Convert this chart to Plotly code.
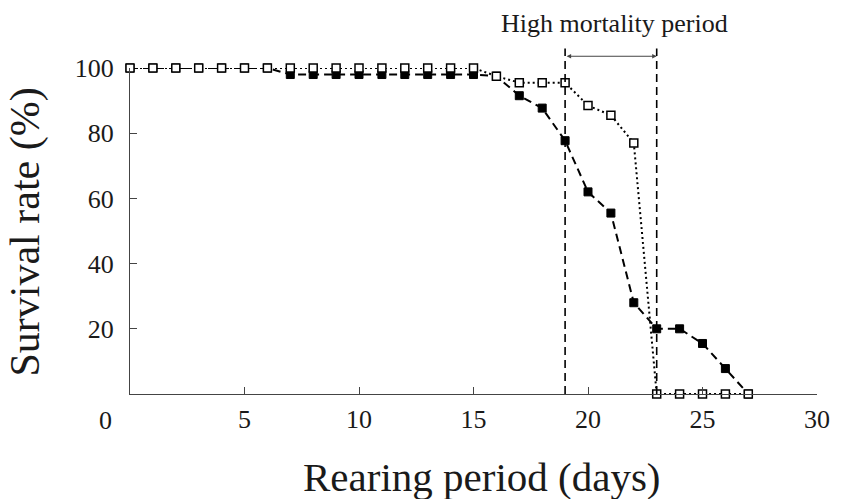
import plotly.graph_objects as go

# ---- data ----
days = list(range(0, 28))
open_survival = [100, 100, 100, 100, 100, 100, 100, 100, 100, 100,
                 100, 100, 100, 100, 100, 100, 97.5, 95.5, 95.5, 95.5,
                 88.5, 85.5, 77, 0, 0, 0, 0, 0]
filled_survival = [100, 100, 100, 100, 100, 100, 100, 98, 98, 98,
                   98, 98, 98, 98, 98, 98, 97.5, 91.5, 87.7, 77.7,
                   62, 55.5, 28, 20, 20, 15.5, 7.8, 0]
x_ticks = [5, 10, 15, 20, 25, 30]
y_ticks = [20, 40, 60, 80, 100]
period_start, period_end = 19, 23

FONT = "Liberation Serif, Times New Roman, serif"
TXT = "#1a1a1a"
AX = "#444444"

fig = go.Figure()
fig.add_trace(go.Scatter(
    x=days, y=filled_survival, mode="lines+markers", cliponaxis=False,
    line=dict(color="black", width=2, dash="8px,5px"),
    marker=dict(symbol="square", size=8, color="black",
                line=dict(color="black", width=1)),
    showlegend=False))
fig.add_trace(go.Scatter(
    x=days, y=open_survival, mode="lines+markers", cliponaxis=False,
    line=dict(color="black", width=2, dash="2px,3px"),
    marker=dict(symbol="square", size=8, color="white",
                line=dict(color="black", width=1.5)),
    showlegend=False))

for d in (period_start, period_end):
    fig.add_shape(type="line", xref="x", yref="paper", x0=d, x1=d, y0=0, y1=1.06,
                  line=dict(color="black", width=1.6, dash="8px,5px"))

fig.add_annotation(xref="x", yref="paper", x=period_end, y=1.036,
                   axref="x", ayref="pixel", ax=period_start, ay=0,
                   text="", showarrow=True, arrowside="end+start",
                   arrowhead=2, arrowsize=0.9, arrowwidth=1, arrowcolor="#444",
                   standoff=0, startstandoff=0)
fig.add_annotation(xref="x", yref="paper", x=21.14, y=1.137,
                   text="High mortality period", showarrow=False,
                   font=dict(family=FONT, size=26, color=TXT),
                   xanchor="center", yanchor="middle")
fig.add_annotation(xref="paper", yref="paper", x=-0.0358, y=-0.08,
                   text="0", showarrow=False,
                   font=dict(family=FONT, size=26, color=TXT),
                   xanchor="center", yanchor="middle")
fig.add_annotation(xref="paper", yref="paper", x=-0.152, y=0.497,
                   text="Survival rate (%)", showarrow=False, textangle=-90,
                   font=dict(family=FONT, size=42, color=TXT),
                   xanchor="center", yanchor="middle")
fig.add_annotation(xref="paper", yref="paper", x=0.512, y=-0.255,
                   text="Rearing period (days)", showarrow=False,
                   font=dict(family=FONT, size=41, color=TXT),
                   xanchor="center", yanchor="middle")

fig.update_xaxes(range=[0, 30], tickvals=x_ticks, showgrid=False, zeroline=False,
                 showline=True, linecolor=AX, linewidth=1.3,
                 ticks="inside", ticklen=7, tickcolor=AX, tickwidth=1.2,
                 ticklabelstandoff=2,
                 tickfont=dict(family=FONT, size=26, color=TXT))
fig.update_yaxes(range=[0, 100], tickvals=y_ticks, showgrid=False, zeroline=False,
                 showline=True, linecolor=AX, linewidth=1.3,
                 ticks="inside", ticklen=7, tickcolor=AX, tickwidth=1.2,
                 ticklabelstandoff=10,
                 tickfont=dict(family=FONT, size=26, color=TXT))

fig.update_layout(width=842, height=499,
                  margin=dict(l=130, r=13, t=68, b=105),
                  paper_bgcolor="white", plot_bgcolor="white")

fig.write_html("out.html", config={"displayModeBar": False},
               post_script="document.body.style.margin='0';document.body.style.overflow='hidden';")
